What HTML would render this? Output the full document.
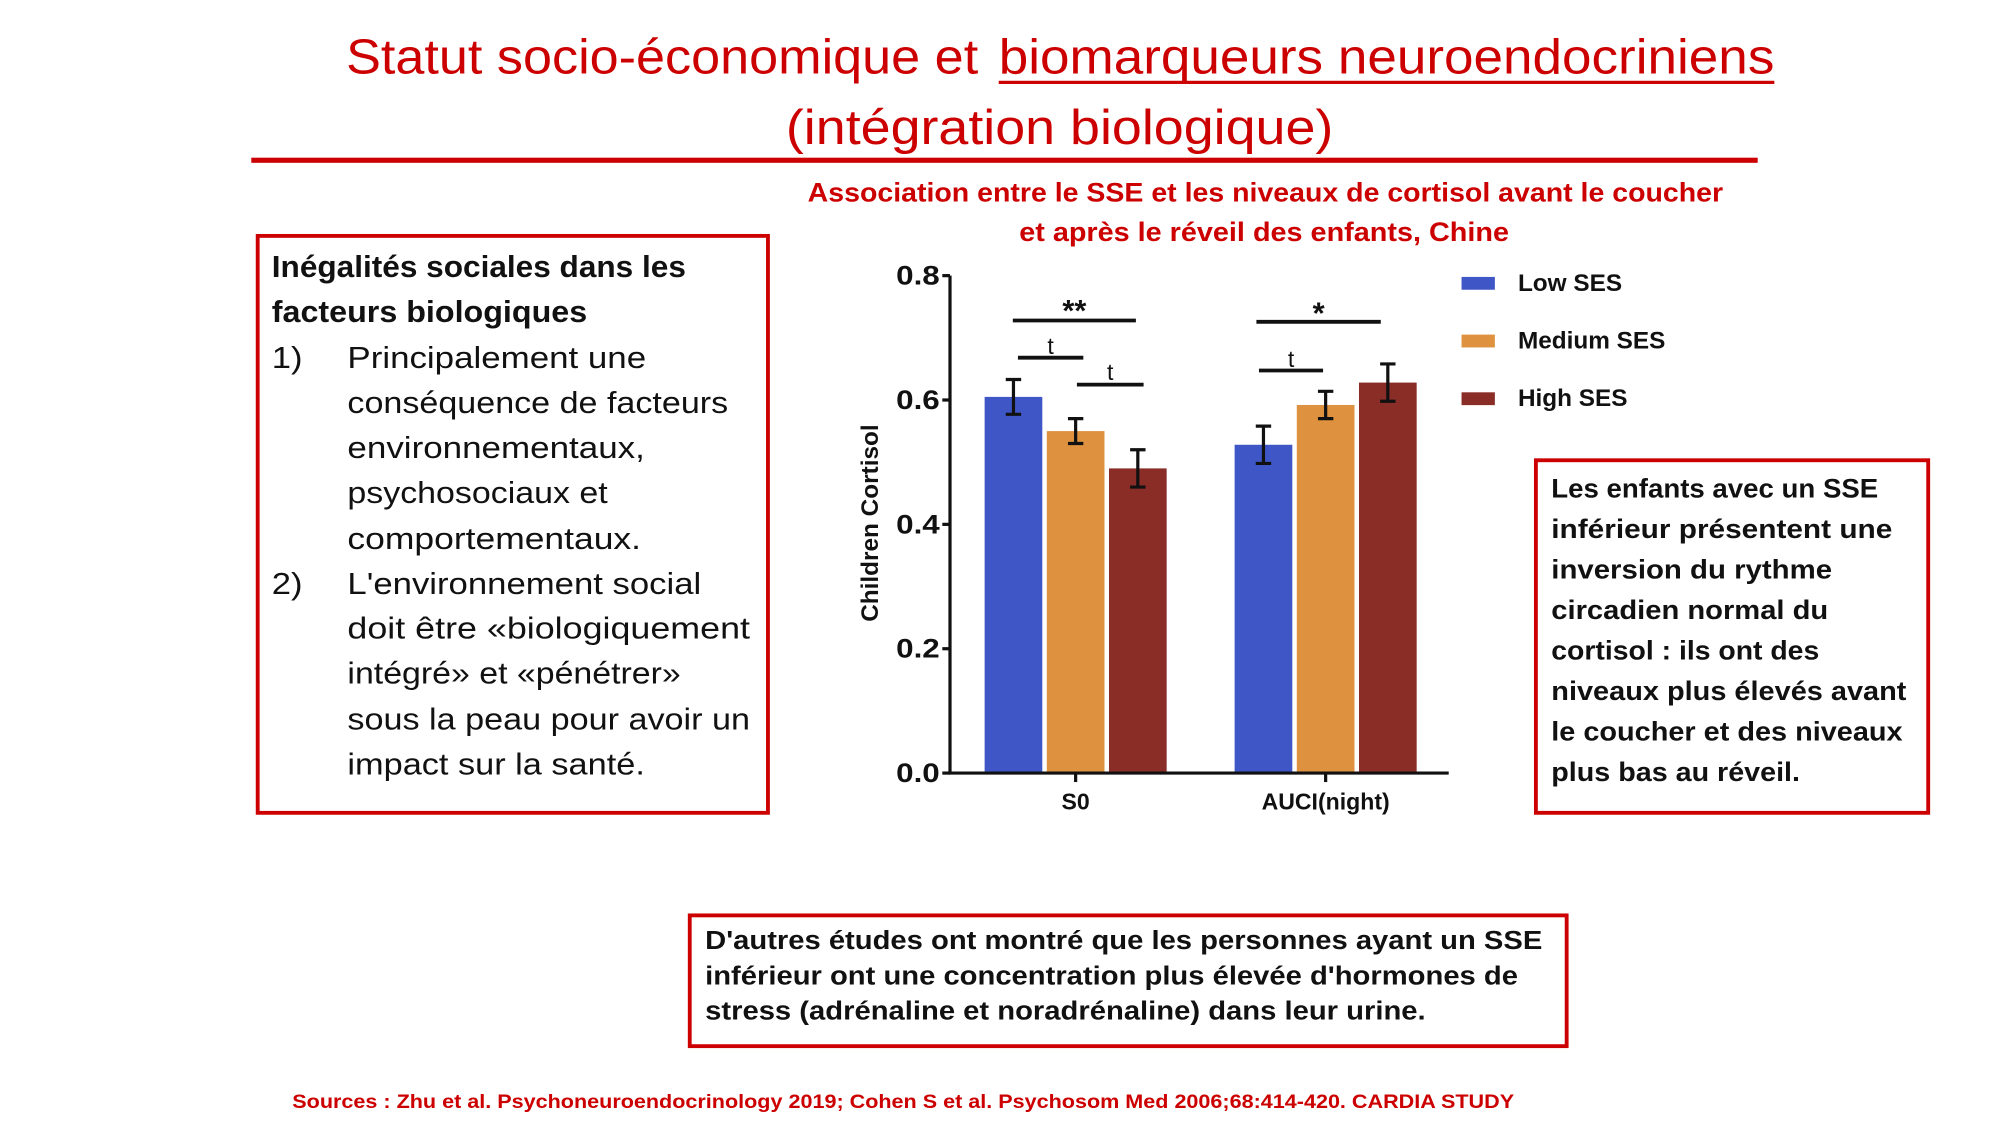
<!DOCTYPE html>
<html><head><meta charset="utf-8"><style>
html,body{margin:0;padding:0;background:#fff;width:2000px;height:1125px;overflow:hidden}
svg{display:block}
text{font-family:"Liberation Sans",sans-serif}
</style></head><body>
<svg id="s" width="2000" height="1125" viewBox="0 0 1560 877.5" preserveAspectRatio="none">
<g fill="#cc0000" font-size="38" dominant-baseline="central">
<text x="270" y="45" textLength="493" lengthAdjust="spacingAndGlyphs">Statut socio-économique et</text>
<text x="779" y="45" textLength="605" lengthAdjust="spacingAndGlyphs">biomarqueurs neuroendocriniens</text>
<text x="613" y="100" textLength="427" lengthAdjust="spacingAndGlyphs">(intégration biologique)</text>
</g>
<rect x="779" y="63" width="605" height="2.5" fill="#cc0000"/>
<rect x="196" y="123" width="1175" height="4" fill="#cc0000"/>
<g fill="#cc0000" font-size="21" font-weight="bold" dominant-baseline="central">
<text x="630" y="150" textLength="714" lengthAdjust="spacingAndGlyphs">Association entre le SSE et les niveaux de cortisol avant le coucher</text>
<text x="795" y="181" textLength="382" lengthAdjust="spacingAndGlyphs">et après le réveil des enfants, Chine</text>
</g>
<rect x="201" y="184" width="398" height="450" fill="none" stroke="#cc0000" stroke-width="3"/>
<g id="lt" font-size="24" fill="#111" dominant-baseline="central"></g>
<rect x="1198" y="359" width="306" height="275" fill="none" stroke="#cc0000" stroke-width="3"/>
<g id="rt" font-size="21" font-weight="bold" fill="#111" dominant-baseline="central"></g>
<rect x="538" y="714" width="684" height="102" fill="none" stroke="#cc0000" stroke-width="3"/>
<g id="bt" font-size="20" font-weight="bold" fill="#111" dominant-baseline="central"></g>
<text x="228" y="860" font-size="15" font-weight="bold" fill="#cc0000" dominant-baseline="central" textLength="953" lengthAdjust="spacingAndGlyphs">Sources : Zhu et al. Psychoneuroendocrinology 2019; Cohen S et al. Psychosom Med 2006;68:414-420. CARDIA STUDY</text>
<g id="chart"></g>
</svg>
<script>
const NS="http://www.w3.org/2000/svg";
function mk(p,t,a,txt){const e=document.createElementNS(NS,t);for(const k in a)e.setAttribute(k,a[k]);if(txt!==undefined)e.textContent=txt;p.appendChild(e);return e;}
const leftLines=[[212,208,"Inégalités sociales dans les",535,1],[212,243,"facteurs biologiques",458,1],[212,279,"1)",236,0],[271,279,"Principalement une",504,0],[271,314,"conséquence de facteurs",568,0],[271,349,"environnementaux,",503,0],[271,384,"psychosociaux et",474,0],[271,420,"comportementaux.",500,0],[212,455,"2)",236,0],[271,455,"L'environnement social",547,0],[271,490,"doit être «biologiquement",585,0],[271,525,"intégré» et «pénétrer»",531,0],[271,561,"sous la peau pour avoir un",585,0],[271,596,"impact sur la santé.",503,0]];
const lt=document.getElementById('lt');
leftLines.forEach(l=>{const e=mk(lt,'text',{x:l[0],y:l[1],textLength:l[3]-l[0],lengthAdjust:'spacingAndGlyphs'},l[2]);if(l[4])e.setAttribute('font-weight','bold');

});
const rightLines=[["Les enfants avec un SSE",1465],["inférieur présentent une",1476],["inversion du rythme",1429],["circadien normal du",1426],["cortisol : ils ont des",1419],["niveaux plus élevés avant",1487],["le coucher et des niveaux",1484],["plus bas au réveil.",1404]];
const rt=document.getElementById('rt');
rightLines.forEach((l,i)=>{const e=mk(rt,'text',{x:1210,y:381+i*31.6,textLength:l[1]-1210,lengthAdjust:'spacingAndGlyphs'},l[0]);

});
const botLines=[["D'autres études ont montré que les personnes ayant un SSE",1203],["inférieur ont une concentration plus élevée d'hormones de",1184],["stress (adrénaline et noradrénaline) dans leur urine.",1112]];
const bt=document.getElementById('bt');
botLines.forEach((l,i)=>{const e=mk(bt,'text',{x:550,y:734+i*27.5,textLength:l[1]-550,lengthAdjust:'spacingAndGlyphs'},l[0]);

});
</script>
<script>
const categories=["S0","AUCI(night)"];
const seriesNames=["Low SES","Medium SES","High SES"];
const lowSES=[0.605,0.528];
const mediumSES=[0.550,0.592];
const highSES=[0.490,0.628];
const lowErr=[0.028,0.030];
const mediumErr=[0.020,0.022];
const highErr=[0.030,0.030];
const yTicks=[0.0,0.2,0.4,0.6,0.8];
const yTickLabels=["0.0","0.2","0.4","0.6","0.8"];
const colors=["#3f57c6","#de923f","#8a2d27"];
const g=document.getElementById('chart');
const x0=741,x1=1130,yTop=215,yBot=603;
const ys=v=>yBot-(v/0.8)*(yBot-yTop);
const groupC=[839,1034],bw=45,gap=3.5;
const barX=(gi,si)=>groupC[gi]+(si-1)*(bw+gap)-bw/2;
const vals=[lowSES,mediumSES,highSES],errs=[lowErr,mediumErr,highErr];
vals.forEach((arr,si)=>arr.forEach((v,gi)=>{
 const r=mk(g,'rect',{x:barX(gi,si),y:ys(v),width:bw,height:yBot-ys(v),fill:colors[si]});
 
 
 const cx=barX(gi,si)+bw/2,e=errs[si][gi];
 const p=mk(g,'path',{d:`M${cx},${ys(v+e)}V${ys(v-e)}M${cx-6},${ys(v+e)}H${cx+6}M${cx-6},${ys(v-e)}H${cx+6}`,stroke:'#111','stroke-width':2.5,fill:'none'});
 
 
}));
const ax=mk(g,'path',{d:`M${x0},${yTop}V${yBot}H${x1}`,stroke:'#111','stroke-width':2.5,fill:'none'});


yTicks.forEach((t,i)=>{
 mk(g,'line',{x1:x0-6,x2:x0,y1:ys(t),y2:ys(t),stroke:'#111','stroke-width':2.5});
 const tl=mk(g,'text',{x:x0-8,y:ys(t),'text-anchor':'end','dominant-baseline':'central','font-size':21,'font-weight':'bold',fill:'#111',textLength:34,lengthAdjust:'spacingAndGlyphs'},yTickLabels[i]);
 
 
});
categories.forEach((c,i)=>{
 mk(g,'line',{x1:groupC[i],x2:groupC[i],y1:yBot,y2:yBot+7,stroke:'#111','stroke-width':2.5});
 const tl=mk(g,'text',{x:groupC[i],y:625,'text-anchor':'middle','dominant-baseline':'central','font-size':18,'font-weight':'bold',fill:'#111'},c);
 
 
});
const yl=mk(g,'text',{x:0,y:0,transform:'translate(679,408) rotate(-90)','text-anchor':'middle','dominant-baseline':'central','font-size':19,'font-weight':'bold',fill:'#111'},'Children Cortisol');


const sig=[[790,886,250,"**",242],[794,845,279,"t",270],[840,892,300,"t",290],[980,1077,251,"*",244],[982,1032,289,"t",280]];
sig.forEach(s=>{
 mk(g,'line',{x1:s[0],x2:s[1],y1:s[2],y2:s[2],stroke:'#111','stroke-width':3});
 const t=mk(g,'text',{x:(s[0]+s[1])/2,y:s[4],'text-anchor':'middle','dominant-baseline':'central','font-size':s[3]=='t'?18:24,'font-weight':s[3]=='t'?'normal':'bold',fill:'#111'},s[3]);
 
 
});
seriesNames.forEach((n,i)=>{
 const y=221+i*45;
 const sw=mk(g,'rect',{x:1140,y:y-5,width:26,height:10,fill:colors[i]});
 
 
 const t=mk(g,'text',{x:1184,y:y,'dominant-baseline':'central','font-size':19,'font-weight':'bold',fill:'#111'},n);
 
 
});
</script>
</body></html>
